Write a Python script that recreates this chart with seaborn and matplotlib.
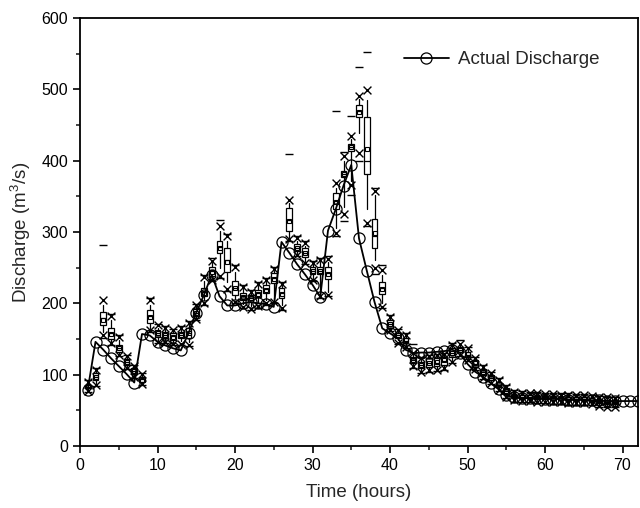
import matplotlib
matplotlib.use("Agg")
import matplotlib.pyplot as plt
import seaborn as sns
import pandas as pd
from matplotlib.ticker import MultipleLocator

# ---- data ----
hours = list(range(1, 73))
actual = [79, 146, 135, 123, 112, 101, 89, 157, 155, 146, 141, 137, 134, 158, 187, 212,
          240, 210, 197, 197, 200, 202, 200, 199, 195, 286, 271, 255, 241, 226, 209, 302,
          332, 365, 394, 291, 246, 202, 165, 158, 151, 135, 130, 131, 131, 132, 133, 135,
          131, 115, 104, 97, 88, 80, 71, 68, 67, 67, 67, 66, 66, 66, 65, 65, 65, 64, 64,
          63, 63, 63, 63, 63]

box_hours = list(range(1, 70))
med = [83, 97, 179, 158, 137, 118, 105, 94, 182, 158, 156, 154, 156, 159, 187, 216, 245,
       279, 261, 222, 210, 207, 214, 220, 235, 214, 317, 278, 270, 246, 246, 242, 343, 381,
       419, 470, 399, 294, 222, 171, 155, 147, 121, 113, 117, 117, 119, 131, 135, 128, 115,
       104, 96, 86, 77, 70, 69, 69, 68, 68, 67, 67, 66, 66, 66, 65, 63, 62, 62]
q1 = [81, 92, 170, 150, 132, 114, 101, 90, 172, 153, 151, 149, 151, 152, 182, 210, 238,
      270, 244, 212, 205, 202, 209, 214, 228, 207, 301, 274, 265, 241, 241, 234, 332, 377,
      414, 461, 382, 277, 213, 166, 151, 144, 117, 109, 111, 112, 114, 125, 132, 125, 111,
      100, 93, 83, 73, 68, 67, 67, 66, 66, 65, 65, 64, 64, 64, 63, 61, 60, 60]
q3 = [86, 102, 188, 165, 142, 122, 109, 97, 191, 163, 160, 158, 160, 165, 192, 222, 251,
      287, 277, 231, 214, 212, 219, 226, 242, 221, 333, 283, 277, 251, 251, 251, 354, 386,
      424, 478, 461, 318, 230, 176, 159, 151, 125, 118, 123, 123, 125, 137, 139, 132, 120,
      108, 100, 90, 81, 72, 71, 71, 70, 70, 69, 69, 68, 68, 68, 67, 65, 64, 64]
mean = [84, 97, 177, 157, 137, 118, 105, 93, 181, 158, 155, 153, 155, 158, 187, 215, 244,
        278, 258, 221, 209, 207, 213, 219, 234, 213, 315, 278, 270, 245, 246, 241, 342, 381,
        419, 468, 417, 298, 220, 171, 155, 148, 121, 113, 117, 118, 120, 131, 135, 129, 116,
        104, 96, 87, 77, 70, 69, 69, 68, 68, 67, 67, 66, 66, 66, 65, 63, 62, 62]
whis_lo = [79, 89, 160, 146, 130, 112, 99, 89, 166, 149, 148, 146, 147, 146, 180, 204, 236,
           250, 230, 206, 199, 196, 200, 204, 206, 197, 293, 270, 260, 236, 215, 216, 305, 335,
           372, 439, 332, 261, 200, 165, 148, 141, 114, 106, 108, 109, 111, 121, 130, 123, 110,
           98, 91, 81, 71, 66, 65, 65, 64, 64, 63, 63, 62, 62, 62, 61, 58, 57, 57]
whis_hi = [88, 104, 198, 176, 148, 124, 110, 99, 198, 166, 163, 160, 163, 169, 195, 232, 256,
           302, 287, 244, 220, 214, 224, 230, 245, 224, 340, 287, 281, 255, 258, 258, 362, 400,
           430, 487, 485, 352, 240, 179, 160, 154, 128, 121, 124, 125, 127, 140, 141, 135, 121,
           110, 101, 91, 82, 74, 73, 73, 72, 72, 71, 71, 70, 70, 69, 69, 67, 66, 66]
p01 = [77, 86, 156, 144, 128, 110, 97, 87, 163, 146, 146, 143, 143, 142, 178, 200, 233,
       238, 220, 202, 195, 192, 196, 200, 202, 193, 290, 268, 257, 233, 210, 212, 298, 325,
       366, 411, 313, 249, 195, 163, 145, 139, 112, 104, 106, 107, 109, 118, 128, 121, 108,
       96, 89, 79, 69, 64, 63, 63, 62, 62, 61, 61, 60, 60, 60, 59, 56, 55, 55]
p99 = [90, 107, 204, 182, 153, 126, 112, 101, 204, 169, 166, 162, 166, 172, 197, 237, 260,
       308, 294, 251, 223, 216, 227, 233, 248, 227, 345, 291, 284, 257, 261, 262, 368, 406,
       435, 491, 499, 358, 247, 181, 162, 156, 131, 123, 126, 127, 129, 142, 143, 137, 123,
       111, 102, 93, 83, 76, 75, 74, 74, 73, 73, 72, 72, 71, 71, 70, 69, 68, 67]
vmin = [76, 84, 152, 141, 126, 108, 95, 86, 160, 144, 144, 141, 141, 140, 176, 198, 231,
        236, 217, 200, 193, 190, 194, 198, 200, 191, 288, 266, 255, 231, 208, 210, 294, 315,
        352, 400, 308, 241, 193, 161, 143, 137, 110, 102, 104, 105, 107, 116, 126, 119, 106,
        94, 87, 77, 67, 62, 61, 61, 60, 60, 59, 59, 58, 58, 58, 57, 55, 54, 54]
vmax = [93, 109, 282, 185, 156, 128, 114, 103, 207, 171, 168, 164, 168, 175, 199, 240, 263,
        317, 297, 254, 226, 219, 230, 236, 251, 230, 410, 294, 287, 260, 264, 266, 470, 412,
        462, 532, 552, 362, 254, 183, 164, 159, 143, 125, 128, 129, 131, 144, 148, 139, 125,
        113, 104, 95, 85, 78, 77, 76, 76, 75, 75, 74, 74, 73, 73, 72, 70, 69, 69]

# ---- styling ----
sns.set_theme(style="ticks")
plt.rcParams['font.family'] = ['Liberation Sans', 'DejaVu Sans']
plt.rcParams['mathtext.fontset'] = 'custom'
plt.rcParams['mathtext.rm'] = 'Liberation Sans'

fig = plt.figure(figsize=(6.4, 5.08), dpi=100)
ax = fig.add_axes([80 / 640, 62 / 508, 558 / 640, 428 / 508])

stats = []
for i in range(len(box_hours)):
    stats.append(dict(med=med[i], q1=q1[i], q3=q3[i], mean=mean[i],
                      whislo=whis_lo[i], whishi=whis_hi[i], fliers=[]))

ax.bxp(stats, positions=box_hours, widths=0.75, showmeans=True, showfliers=False,
       showcaps=False, patch_artist=True, manage_ticks=False,
       boxprops=dict(facecolor='white', edgecolor='black', linewidth=0.9),
       medianprops=dict(color='black', linewidth=0.9),
       whiskerprops=dict(color='black', linewidth=0.9),
       meanprops=dict(marker='s', markerfacecolor='none', markeredgecolor='black',
                      markersize=3, markeredgewidth=0.8),
       zorder=2)

pct = pd.DataFrame({'hour': box_hours * 2, 'value': p01 + p99})
ext = pd.DataFrame({'hour': box_hours * 2, 'value': vmin + vmax})
sns.scatterplot(data=pct, x='hour', y='value', marker='x', s=32, color='black',
                linewidth=1.0, legend=False, ax=ax, zorder=3)
sns.scatterplot(data=ext, x='hour', y='value', marker='_', s=32, color='black',
                linewidth=1.0, legend=False, ax=ax, zorder=3)

df = pd.DataFrame({'hour': hours, 'actual': actual})
sns.lineplot(data=df, x='hour', y='actual', color='black', linewidth=1.3, marker='o',
             markersize=8, markerfacecolor='none', markeredgecolor='black',
             markeredgewidth=0.9, label='Actual Discharge', ax=ax, zorder=4)

ax.set_xlim(0, 72)
ax.set_ylim(0, 600)
ax.xaxis.set_major_locator(MultipleLocator(10))
ax.xaxis.set_minor_locator(MultipleLocator(5))
ax.yaxis.set_major_locator(MultipleLocator(100))
ax.yaxis.set_minor_locator(MultipleLocator(50))
ax.tick_params(which='major', direction='out', length=5, width=1.2, labelsize=11.5,
               colors='black')
ax.tick_params(which='minor', direction='out', length=3, width=1.2)
for s in ax.spines.values():
    s.set_linewidth(1.3)
    s.set_color('black')

ax.set_xlabel('Time (hours)', fontsize=13.5, labelpad=8)
ax.set_ylabel('Discharge (m$^3$/s)', fontsize=13.5, labelpad=6)

ax.legend(loc='upper left', bbox_to_anchor=(0.55, 0.962), frameon=False, fontsize=13.5,
          handlelength=2.4, handletextpad=0.5)

fig.savefig('out.png', dpi=100)
